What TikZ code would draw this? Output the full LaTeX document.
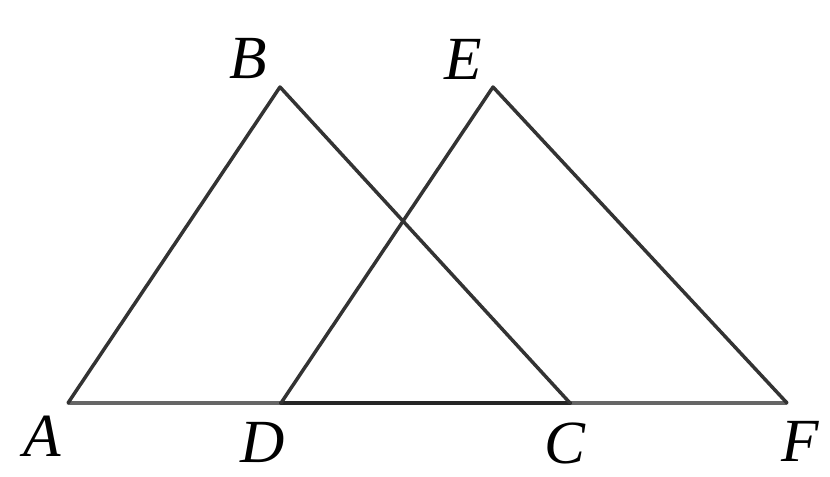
\documentclass[tikz,border=0pt]{standalone}
\usepackage{fontspec}
\setmainfont{Liberation Serif}
\begin{document}
\begin{tikzpicture}[x=0.75pt,y=-0.75pt,
  seg/.style={line width=2.6pt,color=black!80,line cap=round,line join=round},
  base/.style={line width=2.6pt,color=black!60},
  lbl/.style={font=\fontsize{46}{46}\selectfont\itshape,inner sep=0pt}]
\useasboundingbox (0,0) rectangle (830,477);
\coordinate (A) at (68,403);
\coordinate (B) at (280,87);
\coordinate (D) at (281,403);
\coordinate (E) at (493,87);
\coordinate (C) at (570,403);
\coordinate (F) at (787,403);
\draw[base] (A) -- (D);
\draw[base] (C) -- (F);
\draw[seg,line width=3pt,color=black!85] (D) -- (C);
\draw[seg] (A) -- (B) -- (C);
\draw[seg] (D) -- (E) -- (F);
\node[lbl] (lA) at (42,436) {A};
\node[lbl] (lD) at (263,442) {D};
\node[lbl] (lC) at (565,443) {C};
\node[lbl] (lF) at (800,441) {F};
\node[lbl] (lB) at (248,59) {B};
\node[lbl] (lE) at (463,59) {E};
\end{tikzpicture}
\end{document}
